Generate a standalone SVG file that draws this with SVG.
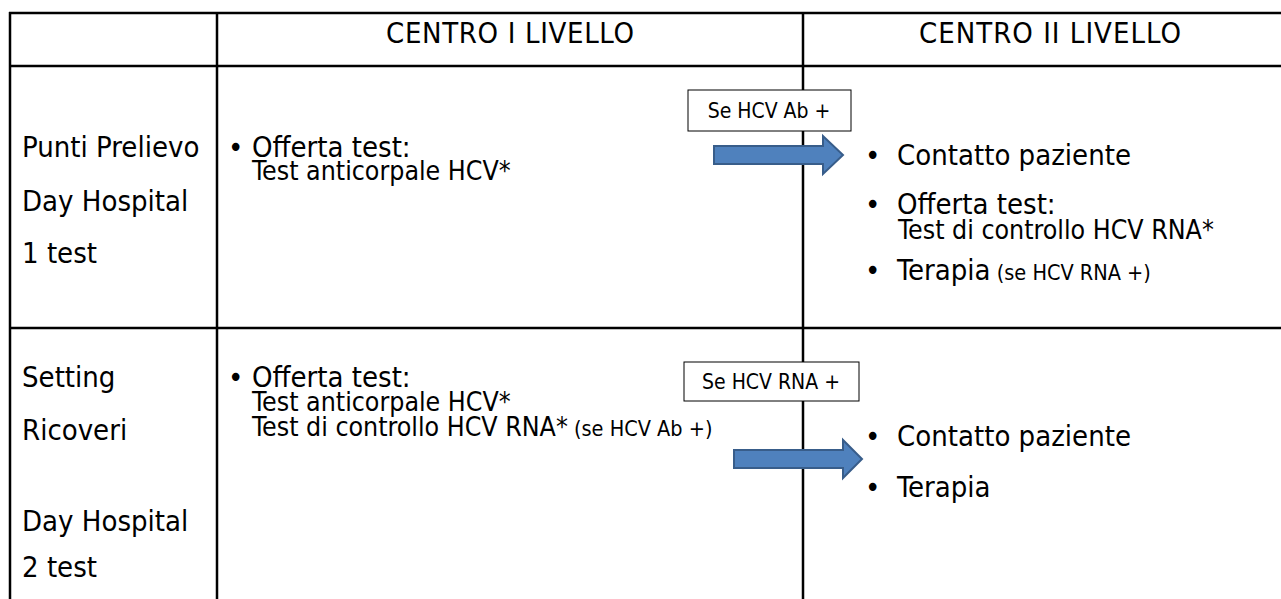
<svg xmlns="http://www.w3.org/2000/svg" width="1281" height="599" viewBox="0 0 1281 599">
<style>
text{font-family:"DejaVu Sans Condensed","DejaVu Sans",sans-serif;font-stretch:condensed;fill:#000}
.big{font-size:29px}
.hdr{font-size:29px}
.sm{font-size:26.5px}
.xs{font-size:21.5px}
.lbl{font-size:21px}
.grid line{stroke:#000;stroke-width:2.5}
.box{fill:#fff;stroke:#000;stroke-width:1}
.arrow{fill:#4F81BD;stroke:#385D8A;stroke-width:2}
</style>
<rect width="1281" height="599" fill="#fff"/>
<g id="grid" class="grid">
<line x1="9" y1="13" x2="1281" y2="13"/>
<line x1="9" y1="66" x2="1281" y2="66"/>
<line x1="9" y1="328" x2="1281" y2="328"/>
<line x1="10" y1="12" x2="10" y2="599"/>
<line x1="217" y1="12" x2="217" y2="599"/>
<line x1="803" y1="12" x2="803" y2="599"/>
</g>
<g id="header">
<text class="hdr" x="510" y="43" text-anchor="middle" textLength="248">CENTRO I LIVELLO</text>
<text class="hdr" x="1050" y="43" text-anchor="middle" textLength="262">CENTRO II LIVELLO</text>
</g>
<g id="row1-left">
<text class="big" x="22" y="157">Punti Prelievo</text>
<text class="big" x="22" y="211">Day Hospital</text>
<text class="big" x="22" y="263">1 test</text>
</g>
<g id="row1-centro1">
<text class="big" x="228" y="157">•</text>
<text class="big" x="252" y="157">Offerta test:</text>
<text class="sm" x="252" y="180">Test anticorpale HCV*</text>
</g>
<g id="row1-centro2">
<text class="big" x="865" y="165">•</text>
<text class="big" x="897" y="165">Contatto paziente</text>
<text class="big" x="865" y="214">•</text>
<text class="big" x="897" y="214">Offerta test:</text>
<text class="sm" x="898" y="239">Test di controllo HCV RNA*</text>
<text class="big" x="865" y="280">•</text>
<text x="897" y="280"><tspan class="big">Terapia</tspan><tspan class="xs"> (se HCV RNA +)</tspan></text>
</g>
<g id="row2-left">
<text class="big" x="22" y="387">Setting</text>
<text class="big" x="22" y="440">Ricoveri</text>
<text class="big" x="22" y="531">Day Hospital</text>
<text class="big" x="22" y="577">2 test</text>
</g>
<g id="row2-centro1">
<text class="big" x="228" y="387">•</text>
<text class="big" x="252" y="387">Offerta test:</text>
<text class="sm" x="252" y="411">Test anticorpale HCV*</text>
<text x="252" y="436"><tspan class="sm">Test di controllo HCV RNA*</tspan><tspan class="xs"> (se HCV Ab +)</tspan></text>
</g>
<g id="row2-centro2">
<text class="big" x="865" y="446">•</text>
<text class="big" x="897" y="446">Contatto paziente</text>
<text class="big" x="865" y="497">•</text>
<text class="big" x="897" y="497">Terapia</text>
</g>
<g id="label-ab">
<rect class="box" x="688" y="90" width="163" height="41"/>
<text class="lbl" x="769" y="118" text-anchor="middle">Se HCV Ab +</text>
</g>
<g id="label-rna">
<rect class="box" x="684" y="362" width="175" height="39"/>
<text class="lbl" x="771" y="389" text-anchor="middle">Se HCV RNA +</text>
</g>
<g id="connectors">
<path class="arrow" d="M714,146 H823 V136 L843,155 L823,174 V164 H714 Z"/>
<path class="arrow" d="M734,450 H843 V440 L862,459 L843,478 V468 H734 Z"/>
</g>
</svg>
